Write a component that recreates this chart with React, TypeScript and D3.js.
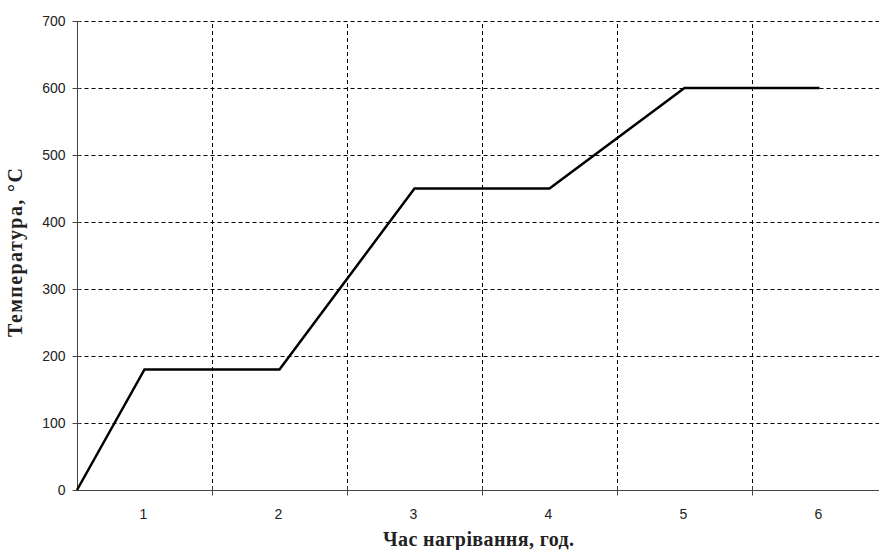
import { useEffect, useRef } from 'react';
import * as d3 from 'd3';

// час нагрівання, год. та температура, °C
const hours = [0.5, 1, 2, 3, 4, 5, 6];
const temps = [0, 180, 180, 450, 450, 600, 600];
const xTickLabels = [1, 2, 3, 4, 5, 6];
const yTicks = [0, 100, 200, 300, 400, 500, 600, 700];
const xTitle = 'Час нагрівання, год.';
const yTitle = 'Температура, °С';

export default function App() {
  const ref = useRef<SVGSVGElement>(null);

  useEffect(() => {
    const width = 879, height = 550;
    // the plot area runs a little past the right edge (cropped, like the original)
    const plot = { left: 77, right: 887, top: 21, bottom: 490 };
    const svg = d3.select(ref.current);
    svg.selectAll('*').remove();
    svg.attr('width', width).attr('height', height);

    const x = d3.scaleLinear().domain([0.5, 6.5]).range([plot.left, plot.right]);
    const y = d3.scaleLinear().domain([0, 700]).range([plot.bottom, plot.top]);
    const px = (v: number) => Math.round(v) + 0.5;

    const bounds = d3.range(1.5, 6.6, 1);

    // grid
    const grid = svg.append('g').attr('stroke', '#000').attr('stroke-width', 1).attr('stroke-dasharray', '4,3');
    grid.selectAll('line.h')
      .data(yTicks.filter(d => d > 0))
      .join('line')
      .attr('x1', px(x(0.5))).attr('x2', width)
      .attr('y1', d => px(y(d))).attr('y2', d => px(y(d)));
    grid.selectAll('line.v')
      .data(bounds)
      .join('line')
      .attr('x1', d => px(x(d))).attr('x2', d => px(x(d)))
      .attr('y1', y(0)).attr('y2', y(700));

    // axes
    const ax = svg.append('g').attr('stroke', '#444').attr('stroke-width', 1);
    const y0 = px(y(0));
    const x0 = px(x(0.5));
    ax.append('line').attr('x1', x0).attr('x2', width).attr('y1', y0).attr('y2', y0);
    ax.append('line').attr('x1', x0).attr('x2', x0).attr('y1', y(700)).attr('y2', y(0));
    ax.selectAll('line.yt')
      .data(yTicks)
      .join('line')
      .attr('x1', x0 - 5).attr('x2', x0 + 3)
      .attr('y1', d => px(y(d))).attr('y2', d => px(y(d)));
    ax.selectAll('line.xt')
      .data(bounds)
      .join('line')
      .attr('x1', d => px(x(d))).attr('x2', d => px(x(d)))
      .attr('y1', y0 - 4).attr('y2', y0 + 5);

    // tick labels
    svg.append('g')
      .selectAll('text')
      .data(yTicks)
      .join('text')
      .attr('x', x0 - 12)
      .attr('y', d => y(d))
      .attr('dy', '0.36em')
      .attr('text-anchor', 'end')
      .attr('font-family', 'Liberation Sans, Arial, sans-serif')
      .attr('font-size', 14)
      .attr('fill', '#222')
      .text(d => d);
    svg.append('g')
      .selectAll('text')
      .data(xTickLabels)
      .join('text')
      .attr('x', d => x(d) - 1)
      .attr('y', 519)
      .attr('text-anchor', 'middle')
      .attr('font-family', 'Liberation Sans, Arial, sans-serif')
      .attr('font-size', 14)
      .attr('fill', '#222')
      .text(d => d);

    // line
    const pts = hours.map((h, i) => [h, temps[i]] as [number, number]);
    svg.append('path')
      .datum(pts)
      .attr('fill', 'none')
      .attr('stroke', '#000')
      .attr('stroke-width', 2.5)
      .attr('stroke-linejoin', 'miter')
      .attr('d', d3.line<[number, number]>().x(d => x(d[0])).y(d => y(d[1])));

    // titles
    svg.append('text')
      .attr('x', 478.5)
      .attr('y', 546)
      .attr('text-anchor', 'middle')
      .attr('font-family', 'Liberation Serif, Times New Roman, serif')
      .attr('font-weight', 'bold')
      .attr('font-size', 20)
      .attr('fill', '#222')
      .attr('textLength', 191)
      .attr('lengthAdjust', 'spacing')
      .text(xTitle);
    svg.append('text')
      .attr('transform', 'translate(22,252.5) rotate(-90)')
      .attr('text-anchor', 'middle')
      .attr('font-family', 'Liberation Serif, Times New Roman, serif')
      .attr('font-weight', 'bold')
      .attr('font-size', 20)
      .attr('fill', '#222')
      .attr('textLength', 169)
      .attr('lengthAdjust', 'spacing')
      .text(yTitle);
  }, []);

  return <svg ref={ref} style={{ position: 'absolute', left: 0, top: 0 }}></svg>;
}
